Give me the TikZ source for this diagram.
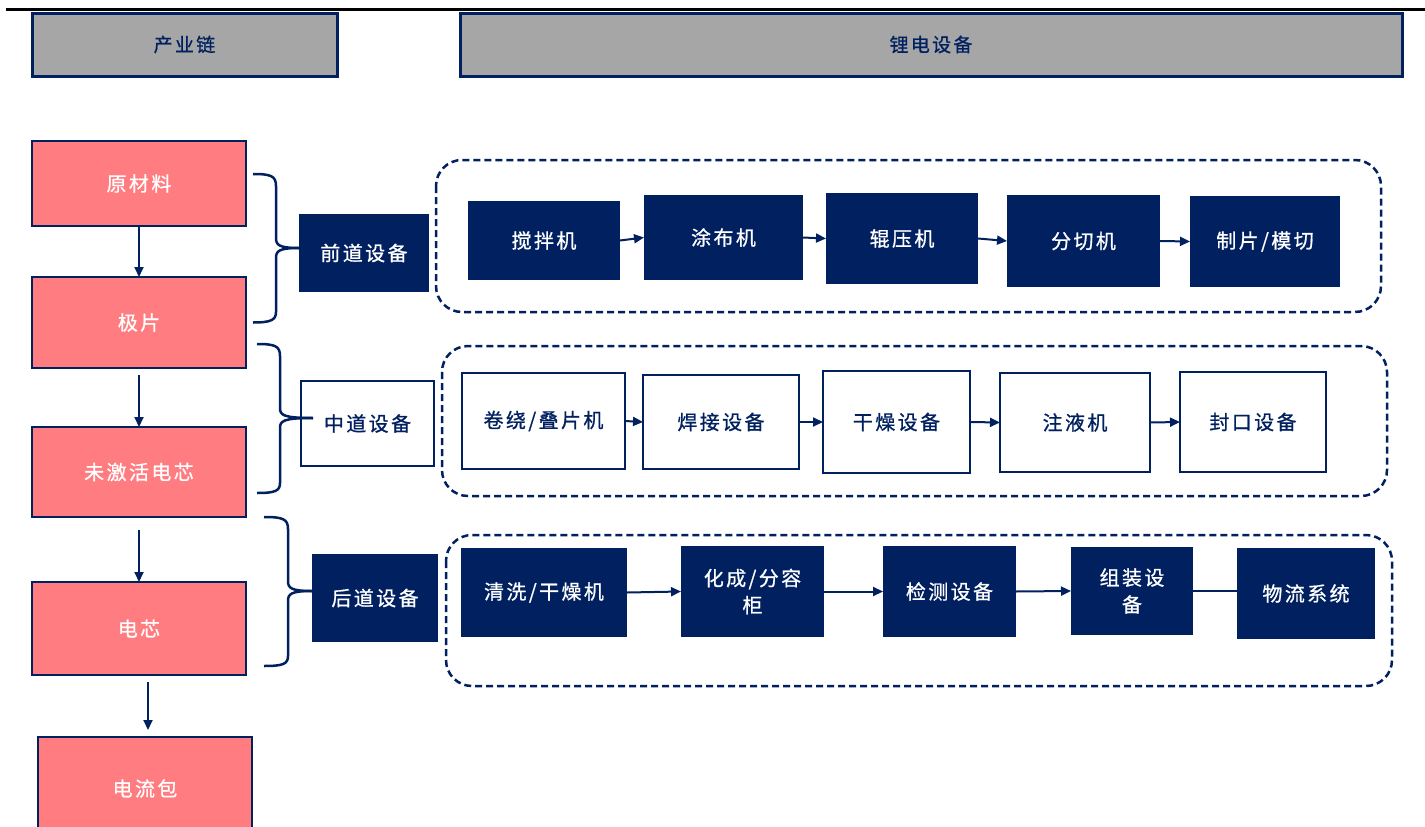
\documentclass[tikz,border=0pt]{standalone}
\usepackage{fontspec}
\newfontfamily\cjk[LetterSpace=12,FakeBold=0.8]{Noto Sans CJK SC}
\usetikzlibrary{arrows.meta}
\definecolor{navy}{HTML}{002060}
\definecolor{pinkf}{HTML}{FF7C80}
\definecolor{grayf}{HTML}{A6A6A6}
\begin{document}
\begin{tikzpicture}[x=1pt,y=-1pt,
 base/.style={inner sep=0pt, outer sep=0pt, font=\cjk\fontsize{20}{27}\selectfont, align=center},
 hdr/.style={base, draw=navy, line width=3pt, fill=grayf, text=navy, font=\cjk\fontsize{19}{23}\selectfont},
 pinkbox/.style={base, draw=navy, line width=2.5pt, fill=pinkf, text=white},
 navybox/.style={base, fill=navy, text=white},
 whitebox/.style={base, draw=navy, line width=2.5pt, fill=white, text=navy},
 grp/.style={draw=navy, line width=2.5pt, dash pattern=on 7pt off 4pt, rounded corners=26pt},
 arr/.style={draw=navy, line width=2pt, -{Triangle[length=10pt,width=9pt]}},
 link/.style={draw=navy, line width=2pt},
 brace/.style={draw=navy, line width=2.5pt},
]
\useasboundingbox (0,0) rectangle (1425,827);
\begin{scope}
\clip (0,0) rectangle (1425,827);
% top rule
\draw[black, line width=3pt] (6,9) -- (1425,9);
% headers
\node[hdr, minimum width=305, minimum height=63] (h1) at (184.5,44.5) {产业链};
\node[hdr, minimum width=942, minimum height=63] (h2) at (931,44.5) {锂电设备};
% left chain
\node[pinkbox, minimum width=214, minimum height=85] (p1) at (139,183.5) {原材料};
\node[pinkbox, minimum width=214, minimum height=91] (p2) at (139,322.5) {极片};
\node[pinkbox, minimum width=214, minimum height=90] (p3) at (139,472) {未激活电芯};
\node[pinkbox, minimum width=214, minimum height=93] (p4) at (139,628.5) {电芯};
\node[pinkbox, minimum width=214, minimum height=103] (p5) at (145,788.5) {电流包};
\draw[arr] (p1.south) -- (p2.north);
\draw[arr, shorten <=7pt] (p2.south) -- (p3.north);
\draw[arr, shorten <=13pt] (p3.south) -- (p4.north);
\draw[arr] ([xshift=9pt,yshift=-7pt]p4.south) -- ([xshift=3pt,yshift=7pt]p5.north);
% stage boxes
\node[navybox, minimum width=130, minimum height=78] (s1) at (364,253) {前道设备};
\node[whitebox, minimum width=133, minimum height=85] (s2) at (367.5,423.5) {中道设备};
\node[navybox, minimum width=126, minimum height=88] (s3) at (375,598) {后道设备};
% braces
\draw[brace] (253,174) .. controls (271,174) and (276,176) .. (276,186) -- (276,238)
  .. controls (276,245) and (279,248) .. (299,248);
\draw[brace] (299,248) .. controls (279,248) and (276,251) .. (276,258) -- (276,312)
  .. controls (276,320) and (271,322.5) .. (253,322.5);
\draw[brace] (257,344) .. controls (275,344) and (280,346) .. (280,356) -- (280,408)
  .. controls (280,415) and (283,418) .. (313,418);
\draw[brace] (313,418) .. controls (283,418) and (280,421) .. (280,428) -- (280,483)
  .. controls (280,491) and (275,493) .. (257,493);
\draw[brace] (264,517) .. controls (283,517) and (288,519) .. (288,529) -- (288,581)
  .. controls (288,588) and (291,591) .. (312,591);
\draw[brace] (312,591) .. controls (291,591) and (288,594) .. (288,601) -- (288,656)
  .. controls (288,664) and (283,666) .. (264,666);
% dashed groups
\draw[grp] (436,160) rectangle (1381,312);
\draw[grp] (442,346) rectangle (1387,496);
\draw[grp] (446,535) rectangle (1392,686);
% row 1
\node[navybox, minimum width=152, minimum height=79] (a1) at (544,240.5) {搅拌机};
\node[navybox, minimum width=159, minimum height=85] (a2) at (723.5,237.5) {涂布机};
\node[navybox, minimum width=152, minimum height=91] (a3) at (902,238.5) {辊压机};
\node[navybox, minimum width=153, minimum height=92] (a4) at (1083.5,241) {分切机};
\node[navybox, minimum width=150, minimum height=91] (a5) at (1265,241.5) {制片/模切};
\draw[arr] (a1.east) -- (a2.west);
\draw[arr] (a2.east) -- (a3.west);
\draw[arr] (a3.east) -- (a4.west);
\draw[arr] (a4.east) -- (a5.west);
% row 2
\node[whitebox, minimum width=163, minimum height=96] (b1) at (543.5,421) {卷绕/叠片机};
\node[whitebox, minimum width=156, minimum height=94] (b2) at (721,422) {焊接设备};
\node[whitebox, minimum width=147, minimum height=102] (b3) at (896.5,422) {干燥设备};
\node[whitebox, minimum width=150, minimum height=99] (b4) at (1075,422.5) {注液机};
\node[whitebox, minimum width=146, minimum height=100] (b5) at (1253,422) {封口设备};
\draw[arr] (b1.east) -- (b2.west);
\draw[arr] (b2.east) -- (b3.west);
\draw[arr] (b3.east) -- (b4.west);
\draw[arr] (b4.east) -- (b5.west);
% row 3
\node[navybox, minimum width=166, minimum height=89] (c1) at (544,592.5) {清洗/干燥机};
\node[navybox, minimum width=143, minimum height=91] (c2) at (752.5,591.5) {化成/分容\\柜};
\node[navybox, minimum width=133, minimum height=91] (c3) at (949.5,591.5) {检测设备};
\node[navybox, minimum width=122, minimum height=88] (c4) at (1132,591) {组装设\\备};
\node[navybox, minimum width=138, minimum height=91] (c5) at (1306,593.5) {物流系统};
\draw[arr] (c1.east) -- (c2.west);
\draw[arr] (c2.east) -- (c3.west);
\draw[arr] (c3.east) -- (c4.west);
\draw[link] (c4.east) -- (c4.east -| c5.west);
\end{scope}
\end{tikzpicture}
\end{document}
